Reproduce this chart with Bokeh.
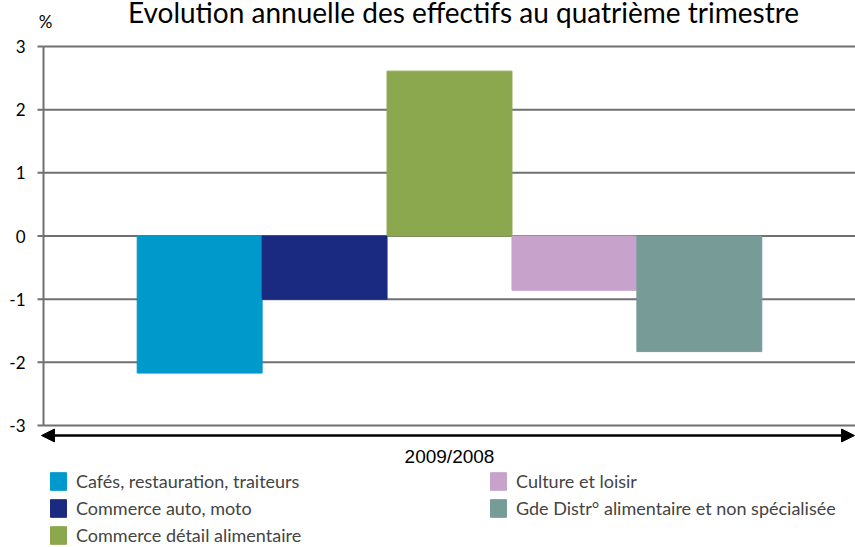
from bokeh.plotting import figure
from bokeh.models import (Range1d, Arrow, NormalHead, Label, Legend, LegendItem,
                          ColumnDataSource)
from bokeh.embed import file_html
from bokeh.resources import INLINE

# ---- data ----
categories = ["Cafés, restauration, traiteurs", "Commerce auto, moto",
              "Commerce détail alimentaire", "Culture et loisir",
              "Gde Distr° alimentaire et non spécialisée"]
values = [-2.17, -1.0, 2.61, -0.86, -1.83]
colors = ["#0099CC", "#1A2A80", "#8BA84E", "#C7A3CC", "#779B97"]
yticks = [-3, -2, -1, 0, 1, 2, 3]
ytick_labels = ["-3", "-2", "-1", "0", "1", "2", "3"]
period = "2009/2008"
title_text = "Evolution annuelle des effectifs au quatrième trimestre"
unit = "%"

FONT = "Lato"
W, H = 855, 547
n = len(categories)
# chart area geometry (pixels inside the canvas)
left_px, top_px, bottom_px = 43, 46, 425
xpx = (W - left_px) / (n + 1.5)          # pixels per category
ypx = (bottom_px - top_px) / (yticks[-1] - yticks[0])
xa, xb = -0.75, n + 0.75                 # chart x extent (data)
x_start = xa - left_px / xpx
y_end = yticks[-1] + top_px / ypx
y_start = yticks[0] - (H - bottom_px) / ypx

p = figure(width=W, height=H, output_backend="svg", toolbar_location=None,
           x_range=Range1d(x_start, xb), y_range=Range1d(y_start, y_end),
           min_border=0, x_axis_location=None, y_axis_location=None)
p.outline_line_color = None
p.grid.visible = False
p.background_fill_color = "white"
p.border_fill_color = "white"

GRAY = "#707070"
# horizontal grid lines
p.segment(x0=[xa] * len(yticks), x1=[xb] * len(yticks), y0=yticks, y1=yticks,
          line_color=GRAY, line_width=2)
# y axis line and ticks
p.segment(x0=[xa], x1=[xa], y0=[yticks[0]], y1=[yticks[-1]], line_color=GRAY, line_width=2)
p.segment(x0=[xa - 6 / xpx] * len(yticks), x1=[xa] * len(yticks), y0=yticks, y1=yticks,
          line_color=GRAY, line_width=2)
p.text(x=[xa] * len(yticks), y=yticks, text=ytick_labels, x_offset=-18,
       text_align="right", text_baseline="middle", text_font_size="17px",
       text_font={"value": FONT}, text_color="black")

# bars
xs = [i + 0.5 for i in range(n)]
src = ColumnDataSource(dict(x=xs, top=values, color=colors, cat=categories))
r = p.vbar(x="x", width=1, top="top", bottom=0, color="color", source=src)

# arrow under plot
ay = yticks[0] - 10 / ypx
p.add_layout(Arrow(x_start=xa - 2 / xpx, x_end=xb - 1 / xpx, y_start=ay, y_end=ay,
                   line_color="black", line_width=2.5,
                   start=NormalHead(size=13, fill_color="black", line_color="black"),
                   end=NormalHead(size=13, fill_color="black", line_color="black")))
p.add_layout(Label(x=(xa + xb) / 2, y=yticks[0] - 31 / ypx, text=period, text_align="center",
                   text_baseline="middle", text_font="Liberation Sans", text_font_size="19px",
                   text_color="black"))
p.add_layout(Label(x=(xa + xb) / 2 + 14 / xpx, y=yticks[-1] + 35 / ypx, text=title_text,
                   text_align="center", text_baseline="alphabetic", text_font=FONT,
                   text_font_size="28px", text_color="black"))
p.add_layout(Label(x=xa + 2 / xpx, y=yticks[-1] + 25 / ypx, text=unit, text_align="center",
                   text_baseline="alphabetic", text_font=FONT, text_font_size="17px",
                   text_color="black"))

def make_legend(idx, loc):
    lg = Legend(items=[LegendItem(label=categories[i], renderers=[r], index=i) for i in idx],
                location=loc, orientation="vertical")
    lg.glyph_width = 20
    lg.glyph_height = 22
    lg.label_standoff = 8
    lg.spacing = 5
    lg.padding = 0
    lg.margin = 0
    lg.border_line_color = None
    lg.background_fill_alpha = 0
    lg.label_text_font = FONT
    lg.label_text_font_size = "18px"
    lg.label_height = 22
    return lg

p.add_layout(make_legend([0, 1, 2], (48, 1)))
p.add_layout(make_legend([3, 4], (488, 28)))

open("out.html", "w").write(file_html(p, INLINE))
